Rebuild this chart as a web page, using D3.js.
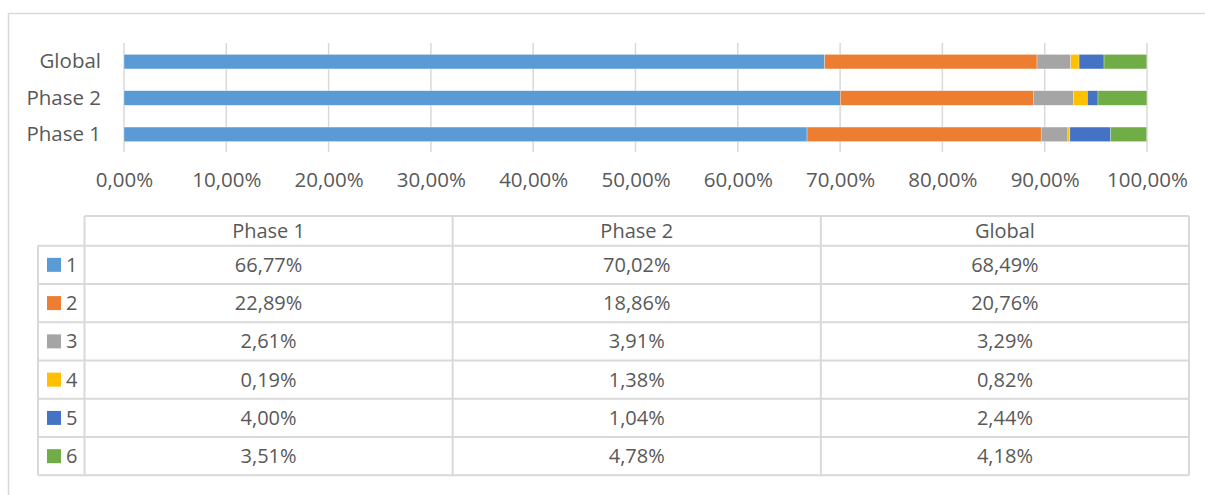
<!DOCTYPE html>
<html>
<head>
<meta charset="utf-8">
<script src="https://cdn.jsdelivr.net/npm/d3@7"></script>
<style>
  body { margin: 0; background: #fff; }
  svg text { font-family: "Open Sans", sans-serif; fill: #595959; }
</style>
</head>
<body>
<svg id="chart" width="1205" height="495"></svg>
<script>
// data
var categories = ["Phase 1", "Phase 2", "Global"];
var seriesNames = ["1", "2", "3", "4", "5", "6"];
var phase1 = [66.77, 22.89, 2.61, 0.19, 4.00, 3.51];
var phase2 = [70.02, 18.86, 3.91, 1.38, 1.04, 4.78];
var global = [68.49, 20.76, 3.29, 0.82, 2.44, 4.18];
var tickValues = [0, 10, 20, 30, 40, 50, 60, 70, 80, 90, 100];
var colors = ["#5B9BD5", "#ED7D31", "#A5A5A5", "#FFC000", "#4472C4", "#70AD47"];

var values = { "Phase 1": phase1, "Phase 2": phase2, "Global": global };

var locale = d3.formatLocale({ decimal: ",", thousands: ".", grouping: [3], currency: ["", "€"] });
var fmt = locale.format(".2f");
var pct = function(v) { return fmt(v) + "%"; };

var svg = d3.select("#chart");
var gridColor = "#d9d9d9";

// outer chart frame (cut by the window on right and bottom)
svg.append("rect")
    .attr("x", 8.5).attr("y", 13.5)
    .attr("width", 1300).attr("height", 600)
    .attr("fill", "none")
    .attr("stroke", gridColor)
    .attr("stroke-width", 1.5);

// scales
var x = d3.scaleLinear().domain([0, 100]).range([124, 1147]);
var y = d3.scaleBand()
    .domain(["Global", "Phase 2", "Phase 1"])
    .range([43.5, 152.5])
    .paddingInner(0.6)
    .paddingOuter(0.3);

// gridlines
svg.append("g")
    .selectAll("line")
    .data(tickValues)
    .enter()
    .append("line")
        .attr("x1", d => x(d)).attr("x2", d => x(d))
        .attr("y1", 43).attr("y2", 152)
        .attr("stroke", gridColor)
        .attr("stroke-width", 1.5);

// x axis labels
var xAxis = d3.axisBottom(x)
    .tickValues(tickValues)
    .tickSize(0)
    .tickPadding(0)
    .tickFormat(d => pct(d));

var gx = svg.append("g")
    .attr("transform", "translate(0,172)")
    .call(xAxis);
gx.select(".domain").remove();
gx.selectAll("text")
    .attr("dy", "0.71em")
    .style("font-size", "20.5px")
    .attr("fill", "#595959");

// y axis labels
var yAxis = d3.axisLeft(y).tickSize(0).tickPadding(0);
var gy = svg.append("g")
    .attr("transform", "translate(101,0)")
    .call(yAxis);
gy.select(".domain").remove();
gy.selectAll("text")
    .style("font-size", "20.5px")
    .attr("fill", "#595959");

// stacked bars
var rows = categories.map(c => {
    var r = { cat: c };
    seriesNames.forEach((s, i) => { r[s] = values[c][i]; });
    return r;
});
var stacked = d3.stack().keys(seriesNames)(rows);

svg.append("g")
    .selectAll("g")
    .data(stacked)
    .enter()
    .append("g")
        .attr("fill", (d, i) => colors[i])
    .selectAll("rect")
    .data(d => d)
    .enter()
    .append("rect")
        .attr("x", d => x(d[0]))
        .attr("y", d => y(d.data.cat))
        .attr("width", d => Math.max(0, x(d[1]) - x(d[0])))
        .attr("height", y.bandwidth())
        .attr("stroke", "#fff")
        .attr("stroke-width", 0.5)
        .attr("stroke-opacity", 0.6);

// data table
var tableLeft = 38, colLeft = 84.5, tableRight = 1189;
var headTop = 216, headBottom = 245.7, rowH = 38.27;
var colW = (tableRight - colLeft) / categories.length;
var table = svg.append("g");
var lineStyle = sel => sel.attr("stroke", gridColor).attr("stroke-width", 2);

// horizontal lines
table.append("line")
    .attr("x1", colLeft).attr("x2", tableRight)
    .attr("y1", headTop).attr("y2", headTop)
    .call(lineStyle);
d3.range(seriesNames.length + 1).forEach(i => {
    table.append("line")
        .attr("x1", tableLeft).attr("x2", tableRight)
        .attr("y1", headBottom + i * rowH).attr("y2", headBottom + i * rowH)
        .call(lineStyle);
});
var tableBottom = headBottom + seriesNames.length * rowH;

// vertical lines
table.append("line")
    .attr("x1", tableLeft).attr("x2", tableLeft)
    .attr("y1", headBottom).attr("y2", tableBottom)
    .call(lineStyle);
d3.range(categories.length + 1).forEach(i => {
    table.append("line")
        .attr("x1", colLeft + i * colW).attr("x2", colLeft + i * colW)
        .attr("y1", headTop).attr("y2", tableBottom)
        .call(lineStyle);
});

// header
table.selectAll(".head")
    .data(categories)
    .enter()
    .append("text")
        .attr("class", "head")
        .attr("x", (d, i) => colLeft + (i + 0.5) * colW)
        .attr("y", (headTop + headBottom) / 2)
        .attr("dy", "0.35em")
        .attr("text-anchor", "middle")
        .style("font-size", "20px")
        .text(d => d);

// legend column
seriesNames.forEach((s, i) => {
    var cy = headBottom + (i + 0.5) * rowH;
    table.append("rect")
        .attr("x", 47).attr("y", cy - 7)
        .attr("width", 14).attr("height", 14)
        .attr("fill", colors[i]);
    table.append("text")
        .attr("x", 66).attr("y", cy)
        .attr("dy", "0.35em")
        .style("font-size", "20px")
        .text(s);
    categories.forEach((c, j) => {
        table.append("text")
            .attr("x", colLeft + (j + 0.5) * colW)
            .attr("y", cy)
            .attr("dy", "0.35em")
            .attr("text-anchor", "middle")
            .style("font-size", "20px")
            .text(pct(values[c][i]));
    });
});
</script>
</body>
</html>
